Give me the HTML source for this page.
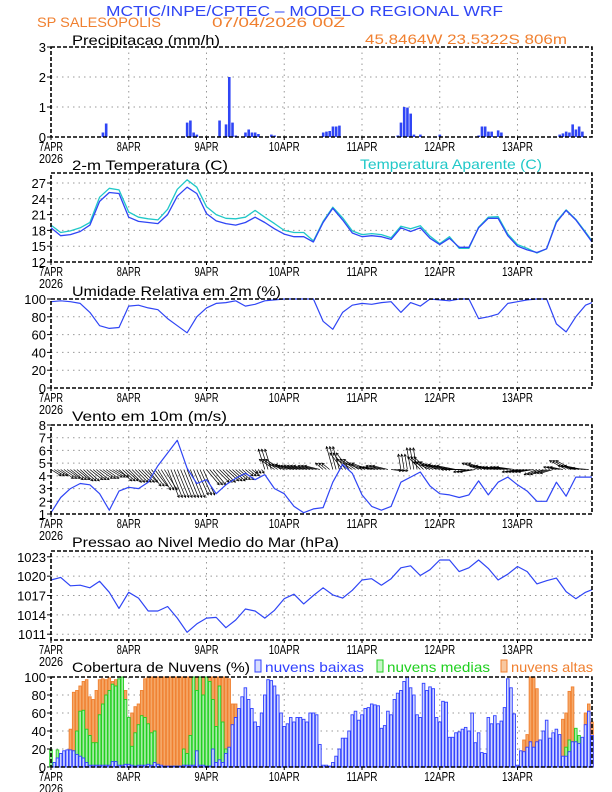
<!DOCTYPE html>
<html><head><meta charset="utf-8"><style>
html,body{margin:0;padding:0;background:#fff;}
svg{display:block;font-family:"Liberation Sans",sans-serif;}
</style></head><body>
<svg id="chart" width="612" height="792" viewBox="0 0 612 792" xmlns="http://www.w3.org/2000/svg">
<rect width="612" height="792" fill="#fff"/>
<text x="106" y="16" font-size="15" fill="#2f45f5" textLength="397" lengthAdjust="spacingAndGlyphs">MCTIC/INPE/CPTEC – MODELO REGIONAL WRF</text>
<text x="37" y="27" font-size="14" fill="#f08030" textLength="124" lengthAdjust="spacingAndGlyphs">SP SALESOPOLIS</text>
<text x="212" y="27" font-size="14" fill="#f08030" textLength="133" lengthAdjust="spacingAndGlyphs">07/04/2026 00Z</text>
<text x="365" y="44" font-size="14" fill="#f08030" textLength="202" lengthAdjust="spacingAndGlyphs">45.8464W 23.5322S 806m</text>
<text x="72" y="45" font-size="14" fill="#000" textLength="148" lengthAdjust="spacingAndGlyphs">Precipitacao (mm/h)</text>
<text x="72" y="170" font-size="14" fill="#000" textLength="156" lengthAdjust="spacingAndGlyphs">2-m Temperatura (C)</text>
<text x="360" y="169" font-size="14" fill="#20c8c8" textLength="182" lengthAdjust="spacingAndGlyphs">Temperatura Aparente (C)</text>
<text x="72" y="296" font-size="14" fill="#000" textLength="209" lengthAdjust="spacingAndGlyphs">Umidade Relativa em 2m (%)</text>
<text x="72" y="421" font-size="14" fill="#000" textLength="155" lengthAdjust="spacingAndGlyphs">Vento em 10m (m/s)</text>
<text x="72" y="547" font-size="14" fill="#000" textLength="267" lengthAdjust="spacingAndGlyphs">Pressao ao Nivel Medio do Mar (hPa)</text>
<text x="72" y="672" font-size="14" fill="#000" textLength="178" lengthAdjust="spacingAndGlyphs">Cobertura de Nuvens (%)</text>
<rect x="255" y="660" width="6" height="12" fill="#d8ddff" stroke="#3040ff"/>
<text x="265" y="672" font-size="14" fill="#3040ff" textLength="99" lengthAdjust="spacingAndGlyphs">nuvens baixas</text>
<rect x="377" y="660" width="6" height="12" fill="#c8f5c8" stroke="#20d020"/>
<text x="387" y="672" font-size="14" fill="#20d020" textLength="103" lengthAdjust="spacingAndGlyphs">nuvens medias</text>
<rect x="501" y="660" width="6" height="12" fill="#f8c8a0" stroke="#f08030"/>
<text x="511" y="672" font-size="14" fill="#f08030" textLength="82" lengthAdjust="spacingAndGlyphs">nuvens altas</text>
<g id="layer"></g>
</svg>
<script>
// ---- data ----
const dayLabels = ["7APR","8APR","9APR","10APR","11APR","12APR","13APR"];
const stepHours = [0,3,6,9,12,15,18,21,24,27,30,33,36,39,42,45,48,51,54,57,60,63,66,69,72,75,78,81,84,87,90,93,96,99,102,105,108,111,114,117,120,123,126,129,132,135,138,141,144,147,150,153,156,159,162,165,167];
const precipHours = [16,17,42,43,44,45,52,54,55,56,57,60,61,62,63,64,68,69,84,85,86,87,88,89,107,108,109,110,111,112,114,120,132,133,134,135,136,138,139,157,158,159,160,161,162,163,164];
const precipValues = [0.15,0.45,0.48,0.55,0.15,0.08,0.55,0.42,2.0,0.48,0.05,0.15,0.25,0.15,0.15,0.1,0.08,0.05,0.15,0.18,0.2,0.35,0.35,0.38,0.05,0.48,1.0,0.98,0.78,0.08,0.08,0.08,0.05,0.35,0.35,0.18,0.18,0.22,0.15,0.08,0.12,0.18,0.15,0.42,0.25,0.35,0.18];
const tempValues = [18.5,17.0,17.2,17.8,19.0,23.5,25.2,25.0,20.5,19.7,19.5,19.3,21.0,24.5,26.2,25.0,21.2,19.8,19.3,19.0,19.5,20.5,19.5,18.3,17.3,16.8,16.8,15.8,19.5,22.2,20.0,17.5,16.8,17.0,16.8,16.3,18.5,17.8,18.5,16.5,15.3,16.5,14.8,14.8,18.5,20.3,20.3,17.0,15.0,14.3,13.8,14.5,19.5,21.8,20.0,17.5,15.8];
const apparentValues = [19.0,17.6,17.9,18.5,19.5,24.3,26.0,25.7,21.5,20.5,20.2,20.0,22.0,25.8,27.6,26.2,22.5,21.0,20.3,20.2,20.5,21.8,20.5,19.3,18.0,17.6,17.6,16.0,19.7,22.4,20.4,17.9,17.2,17.4,17.2,16.6,18.8,18.3,18.9,16.9,15.5,16.8,14.6,14.6,18.6,20.5,20.6,17.3,15.3,14.6,13.7,14.5,19.7,21.9,20.1,17.7,16.0];
const rhValues = [97,98,97,95,85,70,67,68,92,93,90,88,78,70,62,80,90,95,96,98,92,94,98,99,100,100,100,100,75,66,85,93,95,94,96,97,85,96,92,100,99,98,100,100,78,80,83,95,97,99,100,100,72,63,80,93,96];
const windSpeed = [1.1,2.3,3.0,3.4,3.3,2.6,1.3,2.8,3.1,3.0,3.5,4.8,5.8,6.8,4.6,3.4,3.7,2.6,3.3,3.8,4.2,3.7,4.1,3.0,2.6,1.6,1.1,1.4,1.5,3.5,4.9,4.2,2.5,1.6,1.3,1.6,3.5,3.9,4.3,3.2,2.6,2.5,2.3,2.5,3.6,2.5,3.5,3.9,3.3,2.8,2.0,2.0,3.5,2.4,3.9,3.9,3.9];
const windU = [0.8,1.0,1.0,1.0,1.0,1.0,1.0,1.0,1.0,1.0,1.0,1.0,0.9,0.9,0.9,0.9,1.0,1.0,1.0,0.9,0.6,0.2,-0.5,-1.2,-1.2,-1.3,-1.3,-1.2,-0.6,-0.5,-1.0,-1.2,-1.3,-1.0,-1.2,0.8,-0.2,-0.3,-1.0,-1.3,-1.4,-1.5,-1.4,-1.2,-1.3,-1.5,-1.5,-1.4,-1.2,-1.2,-1.0,-1.0,-1.0,-1.3,-1.4,-1.3];
const windV = [-0.5,-0.7,-0.8,-0.9,-0.8,-0.7,-0.6,-0.9,-1.0,-1.0,-1.3,-1.6,-2.2,-2.2,-2.2,-2.0,-1.2,-1.0,-0.9,-0.8,-0.5,-0.3,1.6,0.8,0.4,0.3,0.3,0.3,0.5,1.8,1.3,0.8,0.5,0.2,0.3,-0.1,1.2,1.7,1.0,0.6,0.4,0.3,0.0,-0.2,0.5,0.3,0.2,0.2,-0.2,-0.2,-0.4,-0.3,0.2,0.7,0.3,0.1];
const pressureValues = [1019.4,1019.8,1018.5,1018.6,1018.2,1019.2,1017.5,1015.0,1017.5,1016.6,1014.6,1014.6,1015.3,1013.5,1011.3,1012.6,1013.5,1013.6,1012.0,1013.2,1014.9,1014.6,1013.5,1014.7,1016.5,1017.2,1015.7,1017.0,1018.2,1017.1,1016.6,1017.8,1019.4,1019.6,1018.6,1019.6,1021.3,1021.6,1020.1,1021.0,1022.5,1022.5,1020.7,1021.3,1022.5,1021.2,1019.4,1020.3,1021.5,1020.7,1018.8,1019.3,1019.7,1017.6,1016.5,1017.5,1017.9];
const cloudLow = [0,5,10,15,18,19,19,18,14,12,10,5, 2,2,2,2,2,2,2,6,6,2,2,3, 3,2,1,2,2,2,3,2,5,3,2,1, 1,1,1,1,1,2,2,2,2,18,2,2, 1,1,20,5,8,5,15,22,47,55,65,78, 88,75,65,50,45,60,80,97,96,90,80,60, 45,48,55,50,55,55,53,50,60,60,58,25, 2,2,1,5,12,20,32,32,40,58,62,52, 58,65,66,70,69,68,43,46,62,58,75,82, 85,95,100,88,80,58,55,93,85,89,87,55, 50,73,72,33,33,38,39,42,44,40,60,27, 38,16,15,55,48,57,48,51,66,98,88,59, 2,18,17,22,28,22,28,30,40,52,32,38, 42,36,12,12,17,28,28,26,33,47,62,35];
const cloudMid = [19,2,19,15,10,8,8,15,40,62,63,42, 35,27,27,58,70,80,85,92,90,98,100,75, 55,23,38,47,57,55,48,38,40,3,0,0, 0,0,1,1,1,20,15,35,100,85,100,80, 100,95,75,45,90,50,20,2,0,0,0,0, 0,0,0,0,0,0,0,0,0,0,0,0, 0,0,0,0,0,0,0,0,0,0,0,0, 0,0,0,0,0,0,0,0,0,0,0,0, 0,0,0,0,0,0,0,0,0,0,20,0, 0,0,0,15,5,0,3,0,0,0,0,0, 0,0,0,0,0,0,0,0,0,0,0,0, 0,0,5,10,8,15,5,0,0,0,0,0, 0,8,8,10,0,0,0,0,0,0,0,0, 0,0,10,22,30,28,43,35,10,5,0,0];
const cloudHigh = [0,0,0,0,0,14,42,83,85,90,95,97, 78,75,85,97,98,97,99,95,97,95,90,85, 45,60,67,70,85,98,100,100,100,100,100,100, 100,100,100,100,100,100,100,100,100,100,100,100, 100,100,100,100,100,100,100,98,70,70,5,0, 0,0,0,0,0,0,0,0,0,0,0,0, 0,0,0,0,0,0,0,0,0,0,0,0, 0,0,0,0,0,0,0,0,0,0,0,0, 0,0,0,0,0,0,0,0,0,0,0,0, 0,0,0,0,0,0,0,0,0,0,0,0, 0,0,0,0,0,0,0,0,0,0,0,0, 0,0,0,0,0,0,0,0,0,0,0,0, 0,0,30,36,100,100,87,30,20,40,22,20, 22,18,53,60,84,89,20,12,30,60,70,50];
const precipTicks = [0,1,2,3];
const tempTicks = [12,15,18,21,24,27];
const rhTicks = [0,20,40,60,80,100];
const windTicks = [1,2,3,4,5,6,7,8];
const pressureTicks = [1011,1014,1017,1020,1023];
const cloudTicks = [0,20,40,60,80,100];

// ---- drawing ----
const NS = "http://www.w3.org/2000/svg";
const layer = document.getElementById("layer");
const X0 = 51, X1 = 592, HOURS = 167;
function xh(h){ return X0 + h*(X1-X0)/HOURS; }
function mk(tag, attrs, parent){
  const e = document.createElementNS(NS, tag);
  for (const k in attrs) e.setAttribute(k, attrs[k]);
  (parent||layer).appendChild(e);
  return e;
}
const BLUE="#2f45f5";
function panel(name, top, bottom, ymin, ymax, ticks){
  const g = mk("g", {});
  
  
  const y = v => bottom - (v-ymin)*(bottom-top)/(ymax-ymin);
  for (const t of ticks){
    const yy = y(t);
    if (yy > top+1 && yy < bottom-1){
      const gl = mk("line", {x1:X0,x2:X1,y1:yy,y2:yy,stroke:"#999","stroke-width":1,"stroke-dasharray":"1.5,4"}, g);
      
      
    }
    const tk = mk("line",{x1:X0-4,x2:X0,y1:yy,y2:yy,stroke:"#000","stroke-width":1},g);
    
    
    const tl = mk("text",{x:X0-5,y:yy+5,"font-size":13,"text-anchor":"end",fill:"#000"},g);
    
    
    tl.textContent = t;
  }
  dayLabels.forEach((d,i)=>{
    const xx = xh(i*24);
    if (i>0){
      const vl = mk("line",{x1:xx,x2:xx,y1:top,y2:bottom,stroke:"#999","stroke-width":1,"stroke-dasharray":"1.5,4"},g);
      
      
    }
    const xt = mk("line",{x1:xx,x2:xx,y1:bottom,y2:bottom+3,stroke:"#000"},g);
    
    
    const lab = mk("text",{x:xx,y:bottom+14,"font-size":13,"text-anchor":"middle",fill:"#000",textLength:d.length>4?31:24,lengthAdjust:"spacingAndGlyphs"},g);
    
    
    lab.textContent = d;
  });
  const yr = mk("text",{x:X0,y:bottom+26,"font-size":13,"text-anchor":"middle",fill:"#000",textLength:24,lengthAdjust:"spacingAndGlyphs"},g);
  
  
  yr.textContent = "2026";
  const series = mk("g",{},g);
  
  
  const border = mk("rect",{x:X0,y:top,width:X1-X0,height:bottom-top,fill:"none",stroke:"#000","stroke-width":1.6,"stroke-dasharray":"4,2"},g);
  
  
  return {g:series, y};
}
function line(p, vals, color, name, w){
  const pts = vals.map((v,i)=> xh(stepHours[i]).toFixed(1)+","+p.y(v).toFixed(1)).join(" ");
  const pl = mk("polyline",{points:pts,fill:"none",stroke:color,"stroke-width":w||1.3,"stroke-linejoin":"round"},p.g);
  
  
}

// precipitation
const pp = panel("precip", 47, 137, 0, 3, precipTicks);
precipHours.forEach((h,i)=>{
  const yv = pp.y(precipValues[i]);
  const b = mk("rect",{x:xh(h)-1.2,y:yv,width:2.6,height:pp.y(0)-yv,fill:BLUE},pp.g);
  
  
});

// temperature
const tp = panel("temperature", 173, 262, 12, 28.9, tempTicks);
line(tp, apparentValues, "#20c8c8", "apparent-temp-line", 1.3);
line(tp, tempValues, BLUE, "temp-line", 1.3);

// RH
const rp = panel("humidity", 299, 388, 0, 100, rhTicks);
line(rp, rhValues, BLUE, "rh-line", 1.2);

// wind
const wp = panel("wind", 425, 514, 1, 8, windTicks);
const PXU = (514-425)/7;
for (let h=0; h<=166; h++){
  const i = Math.min(Math.floor(h/3), windU.length-1);
  const x0 = xh(h), y0 = wp.y(4.5);
  const x1 = x0 + windU[i]*PXU, y1 = wp.y(4.5 + windV[i]);
  const a = mk("line",{x1:x0,y1:y0,x2:x1,y2:y1,stroke:"#000","stroke-width":0.7},wp.g);
  
  
  const ang = Math.atan2(y1-y0, x1-x0), L=2.6;
  const hd = mk("polyline",{points:`${x1-L*Math.cos(ang-0.5)},${y1-L*Math.sin(ang-0.5)} ${x1},${y1} ${x1-L*Math.cos(ang+0.5)},${y1-L*Math.sin(ang+0.5)}`,fill:"none",stroke:"#000","stroke-width":0.7},wp.g);
  
  
}
line(wp, windSpeed, BLUE, "wind-speed-line", 1.2);

// pressure
const prp = panel("pressure", 551, 640, 1010.1, 1023.9, pressureTicks);
line(prp, pressureValues, BLUE, "pressure-line", 1.2);

// clouds
const cp = panel("clouds", 677, 767, 0, 100, cloudTicks);
function cloudBars(vals, fill, stroke, name){
  vals.forEach((v,h)=>{
    if (v<=0) return;
    const yv = cp.y(v);
    const b = mk("rect",{x:xh(h)-1.3,y:yv,width:2.6,height:cp.y(0)-yv,fill:fill,stroke:stroke,"stroke-width":0.9},cp.g);
    
    
  });
}
cloudBars(cloudHigh, "#f5a868", "#f08030", "high-cloud-bar");
cloudBars(cloudMid, "#a8eca8", "#20d020", "mid-cloud-bar");
cloudBars(cloudLow, "#d0d6ff", "#3040ff", "low-cloud-bar");
</script>
</body></html>
